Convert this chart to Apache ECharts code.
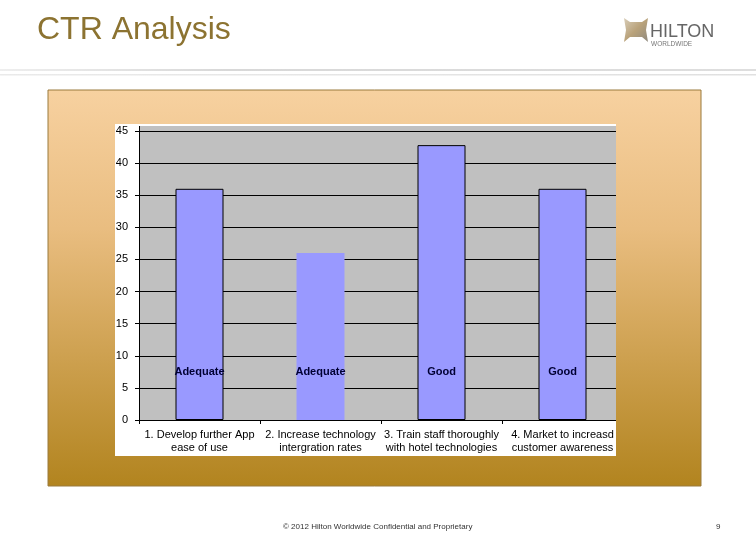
<!DOCTYPE html>
<html>
<head>
<meta charset="utf-8">
<script src="https://cdn.jsdelivr.net/npm/echarts@6/dist/echarts.min.js"></script>
<style>
html,body{margin:0;padding:0;background:#fff;}
#chart{width:756px;height:540px;}
</style>
</head>
<body>
<div id="chart"></div>
<script>
const categories = [
  "1. Develop further App\nease of use",
  "2. Increase technology\nintergration rates",
  "3. Train staff thoroughly\nwith hotel technologies",
  "4. Market to increasd\ncustomer awareness"
];
const values = [36, 26, 42.8, 36];
const ratings = ["Adequate", "Adequate", "Good", "Good"];
const yTicks = [0, 5, 10, 15, 20, 25, 30, 35, 40, 45];

const chart = echarts.init(document.getElementById('chart'), null, {renderer: 'canvas'});
const font = 'Arial, "Liberation Sans", sans-serif';
const boxGradient = () => new echarts.graphic.LinearGradient(0, 90, 0, 486,
  [{offset: 0, color: '#f7d1a0'}, {offset: 0.35, color: '#e9bd80'}, {offset: 1, color: '#b2841f'}], true);

chart.setOption({
  animation: false,
  backgroundColor: '#ffffff',
  title: {
    text: 'CTR Analysis',
    left: 32,
    top: 9,
    textStyle: {fontFamily: font, fontSize: 32, fontWeight: 'normal', color: '#8c7331'}
  },
  graphic: [
    // separator lines
    {type: 'rect', z: -100, shape: {x: 0, y: 69, width: 756, height: 2},
      style: {fill: new echarts.graphic.LinearGradient(0, 0, 1, 0, [{offset: 0, color: '#eeeeee'}, {offset: 0.3, color: '#d8d8d8'}, {offset: 1, color: '#dedede'}])}},
    {type: 'rect', z: -100, shape: {x: 0, y: 74, width: 756, height: 1.5},
      style: {fill: new echarts.graphic.LinearGradient(0, 0, 1, 0, [{offset: 0, color: '#eaeaea'}, {offset: 1, color: '#e0e0e0'}])}},
    // outer gradient box
    {type: 'rect', z: -100, shape: {x: 48, y: 90, width: 653, height: 396},
      style: {fill: boxGradient(), stroke: '#9a7a3c', lineWidth: 1}},
    // white chart panel
    {type: 'rect', z: -90, shape: {x: 115, y: 124, width: 501, height: 332}, style: {fill: '#ffffff'}},
    // gray plot background
    {type: 'rect', z: -80, shape: {x: 139, y: 126, width: 477, height: 294}, style: {fill: '#c0c0c0'}},
    {type: 'line', z: 10, shape: {x1: 139.5, y1: 126, x2: 139.5, y2: 131}, style: {stroke: '#000', lineWidth: 1}},
    // crop of the chart picture at its right edge
    {type: 'rect', z: 50, shape: {x: 616, y: 120, width: 10, height: 340}, style: {fill: boxGradient()}},
    // logo icon
    {type: 'polygon', z: 5, shape: {points: [[624, 18], [630, 22], [642, 22], [648, 18], [646, 30], [648, 42], [642, 37], [630, 37], [624, 42], [626, 30]]},
      style: {fill: new echarts.graphic.LinearGradient(0, 0, 1, 1, [{offset: 0, color: '#d8cdb8'}, {offset: 0.5, color: '#b9a27a'}, {offset: 1, color: '#8f8a80'}])}},
    {type: 'text', z: 5, left: 650, top: 23, style: {text: 'HILTON', fontFamily: font, fontSize: 18, fill: '#666666', fontWeight: 'lighter'}},
    {type: 'text', z: 5, left: 651, top: 41, style: {text: 'WORLDWIDE', fontFamily: font, fontSize: 6.5, fill: '#777777'}},
    // footer
    {type: 'text', z: 5, left: 283, top: 523, style: {text: '\u00a9 2012 Hilton Worldwide Confidential and Proprietary', fontFamily: font, fontSize: 8, fill: '#333333'}},
    {type: 'text', z: 5, left: 716, top: 523, style: {text: '9', fontFamily: font, fontSize: 8, fill: '#333333'}}
  ],
  grid: {
    left: 139, right: 133, top: 131, bottom: 120,
    show: false
  },
  xAxis: {
    type: 'category',
    data: categories,
    axisLine: {show: true, lineStyle: {color: '#000', width: 1}},
    axisTick: {show: true, length: 4, lineStyle: {color: '#000'}},
    axisLabel: {fontFamily: font, fontSize: 11, color: '#000', lineHeight: 13, margin: 8, interval: 0}
  },
  yAxis: {
    type: 'value',
    min: 0, max: 45, interval: 5,
    axisLine: {show: true, lineStyle: {color: '#000', width: 1}},
    axisTick: {show: true, length: 4, lineStyle: {color: '#000'}},
    axisLabel: {fontFamily: font, fontSize: 11, color: '#000', margin: 11,
      formatter: v => yTicks.includes(v) ? String(v) : ''},
    splitLine: {show: true, lineStyle: {color: '#000', width: 1}}
  },
  series: [{
    type: 'bar',
    barWidth: 48,
    data: values.map((v, i) => ({value: v, itemStyle: {borderWidth: i === 1 ? 0 : 1}})),
    itemStyle: {color: '#9999ff', borderColor: '#000', borderWidth: 1},
    label: {
      show: true,
      position: 'insideBottom',
      distance: 43,
      formatter: p => ratings[p.dataIndex],
      fontFamily: font, fontSize: 11, fontWeight: 'bold', color: '#000033'
    }
  }]
});
</script>
</body>
</html>
